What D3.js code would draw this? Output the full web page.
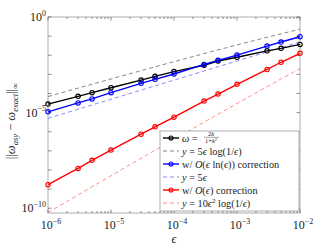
<!DOCTYPE html>
<html>
<head>
<meta charset="utf-8">
<script src="https://cdn.jsdelivr.net/npm/d3@7"></script>
<style>
  body { margin: 0; background: #fff; }
  text { font-family: "Liberation Serif", "DejaVu Serif", serif; fill: #222; }
</style>
</head>
<body>
<div id="chart"></div>
<script>
// epsilon values (x)
const eps = [1e-6, 3e-6, 5e-6, 1e-5, 3e-5, 5e-5, 1e-4, 3e-4, 5e-4, 1e-3, 3e-3, 5e-3, 1e-2];

// errors
const errOmega = [2.8e-5, 7.1e-5, 1.1e-4, 2.0e-4, 5.0e-4, 7.9e-4, 1.4e-3, 3.0e-3, 5.0e-3, 7.8e-3, 1.7e-2, 2.3e-2, 3.7e-2];
const errEpsLn = [1.1e-5, 3.2e-5, 5.2e-5, 1.1e-4, 3.4e-4, 5.5e-4, 1.05e-3, 3.3e-3, 5.4e-3, 1.02e-2, 3.0e-2, 4.9e-2, 9.3e-2];
const errEps = [1.7e-9, 1.2e-8, 3.2e-8, 1.1e-7, 7.4e-7, 1.8e-6, 5.8e-6, 4.0e-5, 9.3e-5, 3.0e-4, 1.8e-3, 4.3e-3, 1.26e-2];

// reference lines
const ref5epsLog = [6.91e-5, 1.91e-4, 3.05e-4, 5.76e-4, 1.56e-3, 2.48e-3, 4.61e-3, 1.22e-2, 1.90e-2, 3.45e-2, 8.71e-2, 0.132, 0.230];
const ref5eps = [5e-6, 1.5e-5, 2.5e-5, 5e-5, 1.5e-4, 2.5e-4, 5e-4, 1.5e-3, 2.5e-3, 5e-3, 1.5e-2, 2.5e-2, 5e-2];
const ref10eps2Log = [6e-11, 4.97e-10, 1.33e-9, 5e-9, 4.07e-8, 1.08e-7, 4e-7, 3.17e-6, 8.25e-6, 3e-5, 2.27e-4, 5.75e-4, 2e-3];

const xTickExps = [-6, -5, -4, -3, -2];
const yTickExps = [0, -5, -10];

const width = 332, height = 249;
const margin = { left: 48, right: 32, top: 17, bottom: 36 };

const svg = d3.select("#chart")
    .append("svg")
    .attr("width", width)
    .attr("height", height);

const x = d3.scaleLog()
    .domain([1e-6, 1e-2])
    .range([margin.left, width - margin.right]);

const y = d3.scaleLog()
    .domain([Math.pow(10, -10.25), 1])
    .range([height - margin.bottom, margin.top]);

const x0 = x.range()[0], x1 = x.range()[1];
const y0 = y.range()[0], y1 = y.range()[1];

// axes box
svg.append("rect")
    .attr("x", x0).attr("y", y1)
    .attr("width", x1 - x0).attr("height", y0 - y1)
    .attr("fill", "none")
    .attr("stroke", "#999")
    .attr("stroke-width", 0.8);

// x ticks (major + minor), inward on bottom and top
const xMinor = [];
for (let e = -6; e < -2; e++) {
    for (let m = 1; m < 10; m++) xMinor.push(m * Math.pow(10, e));
}
xMinor.push(1e-2);
const tickG = svg.append("g").attr("stroke", "#444").attr("stroke-width", 0.6);
xMinor.forEach(v => {
    const major = Math.abs(Math.log10(v) - Math.round(Math.log10(v))) < 1e-9;
    const len = major ? 3.5 : 2;
    tickG.append("line").attr("x1", x(v)).attr("x2", x(v)).attr("y1", y0).attr("y2", y0 - len);
    tickG.append("line").attr("x1", x(v)).attr("x2", x(v)).attr("y1", y1).attr("y2", y1 + len);
});

// y ticks every decade
for (let e = -10; e <= 0; e++) {
    const v = Math.pow(10, e);
    tickG.append("line").attr("x1", x0).attr("x2", x0 + 3.5).attr("y1", y(v)).attr("y2", y(v));
    tickG.append("line").attr("x1", x1).attr("x2", x1 - 3.5).attr("y1", y(v)).attr("y2", y(v));
}

// tick labels
function powLabel(g, e, anchor) {
    const t = g.append("text").attr("text-anchor", anchor).attr("font-size", 12).attr("fill", "#333");
    t.append("tspan").text("10");
    t.append("tspan").attr("dy", -5.5).attr("font-size", 8)
        .text(e === 0 ? "0" : "\u2212" + Math.abs(e));
    return t;
}
xTickExps.forEach(e => {
    const g = svg.append("g").attr("transform", `translate(${x(Math.pow(10, e)) + 3},${y0 + 16})`);
    powLabel(g, e, "middle");
});
yTickExps.forEach(e => {
    const g = svg.append("g").attr("transform", `translate(${x0 - 2},${y(Math.pow(10, e)) + 4})`);
    powLabel(g, e, "end");
});

// axis labels
svg.append("text")
    .attr("x", 174).attr("y", 243)
    .attr("text-anchor", "middle")
    .attr("font-size", 12)
    .attr("font-style", "italic")
    .text("\u03f5");

const yl = svg.append("text")
    .attr("transform", `translate(15,121) rotate(-90)`)
    .attr("text-anchor", "middle")
    .attr("font-size", 12.5);
yl.append("tspan").text("||");
yl.append("tspan").attr("font-style", "italic").text("\u03c9");
yl.append("tspan").attr("font-style", "italic").attr("font-size", 8.5).attr("dy", 3).text("asy");
yl.append("tspan").attr("dy", -3).text(" \u2212 ");
yl.append("tspan").attr("font-style", "italic").text("\u03c9");
yl.append("tspan").attr("font-style", "italic").attr("font-size", 8.5).attr("dy", 3).text("exact");
yl.append("tspan").attr("dy", -3).text("||");
yl.append("tspan").attr("font-size", 8.5).attr("dy", 3).text("\u221e");

// series
const line = d3.line()
    .x(d => x(d[0]))
    .y(d => y(d[1]));

const dashed = [
    { vals: ref5epsLog, color: "#666" },
    { vals: ref5eps, color: "#6c6cff" },
    { vals: ref10eps2Log, color: "#ff7070" }
];
const solid = [
    { vals: errOmega, color: "#000" },
    { vals: errEpsLn, color: "#0000ff" },
    { vals: errEps, color: "#ff0000" }
];

svg.append("clipPath").attr("id", "clip")
    .append("rect").attr("x", x0).attr("y", y1).attr("width", x1 - x0).attr("height", y0 - y1);

const plot = svg.append("g").attr("clip-path", "url(#clip)");

plot.selectAll(".ref")
    .data(dashed)
    .enter()
    .append("path")
    .attr("class", "ref")
    .attr("d", s => line(eps.map((e, i) => [e, s.vals[i]])))
    .attr("fill", "none")
    .attr("stroke", s => s.color)
    .attr("stroke-width", 0.8)
    .attr("stroke-dasharray", "4,3");

solid.forEach(s => {
    const pts = eps.map((e, i) => [e, s.vals[i]]);
    svg.append("path")
        .attr("d", line(pts))
        .attr("fill", "none")
        .attr("stroke", s.color)
        .attr("stroke-width", 1.4);
    svg.selectAll(null)
        .data(pts)
        .enter()
        .append("circle")
        .attr("cx", d => x(d[0]))
        .attr("cy", d => y(d[1]))
        .attr("r", 2.2)
        .attr("fill", "none")
        .attr("stroke", s.color)
        .attr("stroke-width", 1.1);
});

// legend
const lg = svg.append("g").attr("transform", "translate(160,131)");
lg.append("rect")
    .attr("width", 139).attr("height", 80)
    .attr("fill", "#fff")
    .attr("stroke", "#999")
    .attr("stroke-width", 0.8);

const legendItems = [
    { color: "#000", marker: true, dash: null },
    { color: "#666", marker: false, dash: "4,3" },
    { color: "#0000ff", marker: true, dash: null },
    { color: "#6c6cff", marker: false, dash: "4,3" },
    { color: "#ff0000", marker: true, dash: null },
    { color: "#ff7070", marker: false, dash: "4,3" }
];
const rowH = 13;
legendItems.forEach((it, i) => {
    const cy = 7 + i * rowH;
    lg.append("line")
        .attr("x1", 3).attr("x2", 19).attr("y1", cy).attr("y2", cy)
        .attr("stroke", it.color)
        .attr("stroke-width", it.marker ? 1.4 : 0.8)
        .attr("stroke-dasharray", it.dash);
    if (it.marker) {
        lg.append("circle").attr("cx", 11).attr("cy", cy).attr("r", 2)
            .attr("fill", "none").attr("stroke", it.color).attr("stroke-width", 1.1);
    }
});

function lt(i) {
    return lg.append("text").attr("x", 22).attr("y", 7 + i * rowH + 3.5).attr("font-size", 10.3);
}
let t = lt(0);
t.append("tspan").attr("font-style", "italic").text("\u03c9");
t.append("tspan").text(" = ");
// fraction 2k / (1+k^2)
lg.append("text").attr("x", 51).attr("y", 4.5).attr("font-size", 6.5).attr("text-anchor", "middle")
    .html('2<tspan font-style="italic">k</tspan>');
lg.append("line").attr("x1", 44).attr("x2", 59).attr("y1", 6.3).attr("y2", 6.3)
    .attr("stroke", "#222").attr("stroke-width", 0.4);
lg.append("text").attr("x", 51).attr("y", 11.8).attr("font-size", 6.5).attr("text-anchor", "middle")
    .html('1+<tspan font-style="italic">k</tspan><tspan font-size="4.5" dy="-2">2</tspan>');

t = lt(1);
t.append("tspan").attr("font-style", "italic").text("y");
t.append("tspan").text(" = 5");
t.append("tspan").attr("font-style", "italic").text("\u03f5");
t.append("tspan").text(" log(1/");
t.append("tspan").attr("font-style", "italic").text("\u03f5");
t.append("tspan").text(")");

t = lt(2);
t.append("tspan").text("w/ ");
t.append("tspan").attr("font-style", "italic").text("O");
t.append("tspan").text("(");
t.append("tspan").attr("font-style", "italic").text("\u03f5");
t.append("tspan").text(" ln(");
t.append("tspan").attr("font-style", "italic").text("\u03f5");
t.append("tspan").text(")) correction");

t = lt(3);
t.append("tspan").attr("font-style", "italic").text("y");
t.append("tspan").text(" = 5");
t.append("tspan").attr("font-style", "italic").text("\u03f5");

t = lt(4);
t.append("tspan").text("w/ ");
t.append("tspan").attr("font-style", "italic").text("O");
t.append("tspan").text("(");
t.append("tspan").attr("font-style", "italic").text("\u03f5");
t.append("tspan").text(") correction");

t = lt(5);
t.append("tspan").attr("font-style", "italic").text("y");
t.append("tspan").text(" = 10");
t.append("tspan").attr("font-style", "italic").text("\u03f5");
t.append("tspan").attr("font-size", 7).attr("dy", -4).text("2");
t.append("tspan").attr("dy", 4).text(" log(1/");
t.append("tspan").attr("font-style", "italic").text("\u03f5");
t.append("tspan").text(")");
</script>
</body>
</html>
